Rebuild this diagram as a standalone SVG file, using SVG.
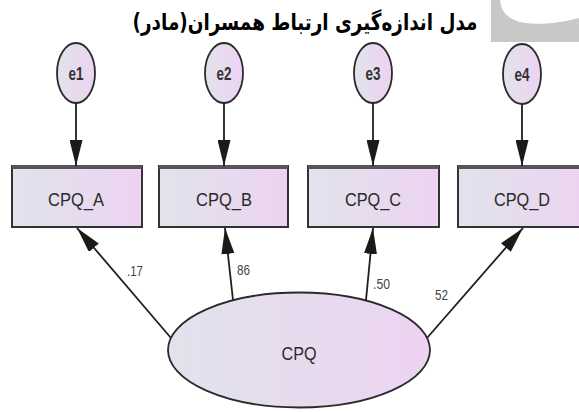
<svg xmlns="http://www.w3.org/2000/svg" width="579" height="412" viewBox="0 0 579 412">
  <defs>
    <linearGradient id="g" x1="0" y1="0" x2="1" y2="0">
      <stop offset="0" stop-color="#e1e3ec"/>
      <stop offset="1" stop-color="#edd3f1"/>
    </linearGradient>
    <marker id="ah" viewBox="0 0 26 13" markerWidth="26" markerHeight="13" refX="26" refY="6.5" orient="auto" markerUnits="userSpaceOnUse">
      <path d="M0,0 L26,6.5 L0,13 Z" fill="#1a1a1a"/>
    </marker>
    <style>
      .box{fill:url(#g);stroke:#333;stroke-width:2}
      .top{stroke:#555;stroke-width:4}
      .ell{fill:url(#g);stroke:#2a2a2a;stroke-width:1.8}
      .lbl{font-family:"Liberation Sans",Arial,sans-serif;font-size:19px;fill:#2a2a2a;text-anchor:middle}
      .elbl{font-family:"Liberation Sans",Arial,sans-serif;font-size:18px;font-weight:bold;fill:#333;text-anchor:middle}
      .w{font-family:"Liberation Sans",Arial,sans-serif;font-size:15px;fill:#444}
      .conn line{stroke:#1f1f1f;stroke-width:1.8;marker-end:url(#ah)}
      .title{font-family:"DejaVu Sans","Noto Sans",sans-serif;font-size:23px;font-weight:bold;fill:#000;text-anchor:middle}
    </style>
  </defs>
  <rect width="579" height="412" fill="#ffffff"/>
  <g id="logo">
    <rect x="491" y="0" width="88" height="42" fill="#c8c8c8"/>
    <path d="M500,0 C501,12 508,20 525,23 C540,25 560,23 579,18 L579,0 Z" fill="#ffffff"/>
  </g>
  <text class="title" transform="translate(305,30) scale(0.8,1)" x="0" y="0">مدل اندازه‌گیری ارتباط همسران(مادر)</text>

  <g id="e1"><ellipse class="ell" cx="76" cy="73" rx="19" ry="30"/><text class="elbl" x="76" y="80" textLength="15" lengthAdjust="spacingAndGlyphs">e1</text></g>
  <g id="e2"><ellipse class="ell" cx="224" cy="73" rx="19" ry="30"/><text class="elbl" x="224" y="80" textLength="15" lengthAdjust="spacingAndGlyphs">e2</text></g>
  <g id="e3"><ellipse class="ell" cx="373" cy="73" rx="19" ry="30"/><text class="elbl" x="373" y="80" textLength="15" lengthAdjust="spacingAndGlyphs">e3</text></g>
  <g id="e4"><ellipse class="ell" cx="522" cy="74" rx="19" ry="30"/><text class="elbl" x="522" y="81" textLength="15" lengthAdjust="spacingAndGlyphs">e4</text></g>

  <g id="CPQ_A"><rect class="box" x="12" y="166" width="130" height="61"/><line class="top" x1="12" y1="167" x2="142" y2="167"/><text class="lbl" x="76" y="206" textLength="56" lengthAdjust="spacingAndGlyphs">CPQ_A</text></g>
  <g id="CPQ_B"><rect class="box" x="159" y="166" width="129" height="61"/><line class="top" x1="159" y1="167" x2="288" y2="167"/><text class="lbl" x="224" y="206" textLength="56" lengthAdjust="spacingAndGlyphs">CPQ_B</text></g>
  <g id="CPQ_C"><rect class="box" x="308" y="166" width="131" height="61"/><line class="top" x1="308" y1="167" x2="439" y2="167"/><text class="lbl" x="373" y="206" textLength="56" lengthAdjust="spacingAndGlyphs">CPQ_C</text></g>
  <g id="CPQ_D"><rect class="box" x="458" y="166" width="132" height="61"/><line class="top" x1="458" y1="167" x2="590" y2="167"/><text class="lbl" x="522" y="206" textLength="56" lengthAdjust="spacingAndGlyphs">CPQ_D</text></g>

  <g id="CPQ"><ellipse class="ell" cx="299" cy="350" rx="131" ry="57.5"/><text class="lbl" x="299" y="360" font-size="18" textLength="35" lengthAdjust="spacingAndGlyphs">CPQ</text></g>

  <g id="connectors" class="conn">
    <line x1="76" y1="103" x2="76" y2="166"/>
    <line x1="224" y1="103" x2="224" y2="166"/>
    <line x1="373" y1="103" x2="373" y2="166"/>
    <line x1="522" y1="104" x2="522" y2="166"/>
    <line x1="171" y1="338" x2="77" y2="228"/>
    <line x1="233" y1="300" x2="225" y2="228"/>
    <line x1="366" y1="300" x2="373" y2="228"/>
    <line x1="427" y1="338" x2="523" y2="228"/>
    <text class="w" x="127" y="276" textLength="16" lengthAdjust="spacingAndGlyphs">.17</text>
    <text class="w" x="237" y="275" textLength="13" lengthAdjust="spacingAndGlyphs">86</text>
    <text class="w" x="373" y="289" textLength="17" lengthAdjust="spacingAndGlyphs">.50</text>
    <text class="w" x="435" y="300" textLength="13" lengthAdjust="spacingAndGlyphs">52</text>
  </g>
</svg>
